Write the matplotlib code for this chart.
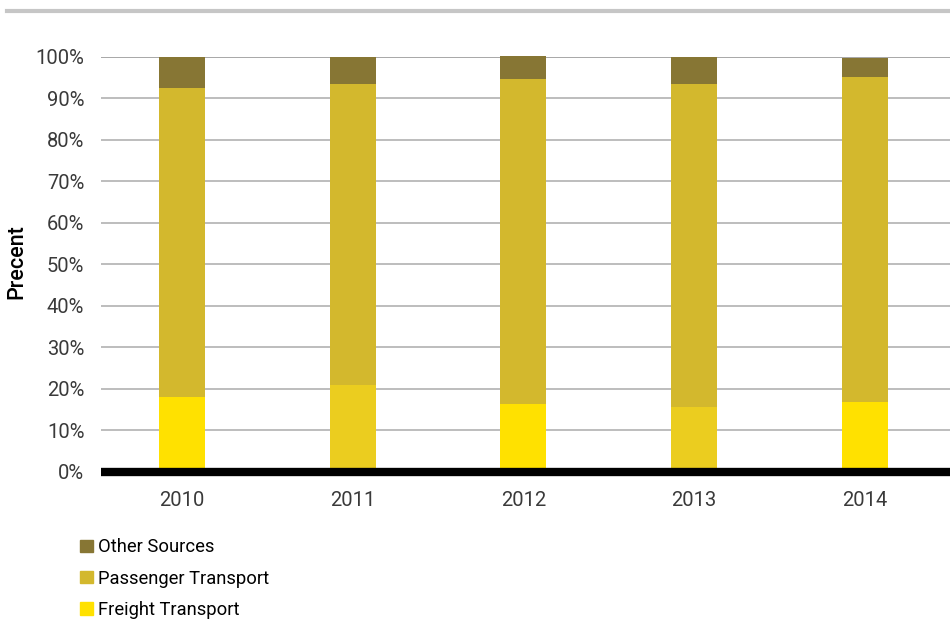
import matplotlib.pyplot as plt
from matplotlib.patches import Patch
from matplotlib.lines import Line2D

# share of transport emissions by source, percent of total
years = ["2010", "2011", "2012", "2013", "2014"]
freight = [18.0, 20.8, 16.3, 15.5, 16.7]
passenger = [74.5, 72.6, 78.3, 78.1, 78.4]
other = [7.5, 6.6, 5.7, 6.4, 4.6]

yticks = [0, 10, 20, 30, 40, 50, 60, 70, 80, 90, 100]
ytick_labels = [f"{t}%" for t in yticks]

c_other = "#877634"
c_pass = "#D3B82D"
c_freight = ["#FFE100", "#EBCD1F", "#FFE100", "#EBCD1F", "#FFE100"]

plt.rcParams["font.family"] = ["Roboto", "DejaVu Sans"]

fig = plt.figure(figsize=(9.5, 6.22), dpi=100)
ax = fig.add_axes([101 / 950, 1 - 471.5 / 622, 1 - 101 / 950, 414.5 / 622])

x = list(range(len(years)))
w = 0.27
ax.bar(x, freight, w, color=c_freight, zorder=2, clip_on=False)
ax.bar(x, passenger, w, bottom=freight, color=c_pass, zorder=2, clip_on=False)
base = [f + p for f, p in zip(freight, passenger)]
ax.bar(x, other, w, bottom=base, color=c_other, zorder=2, clip_on=False)

for t in yticks[1:]:
    ax.axhline(t, color="#8F8F8F" if t == 100 else "#ABABAB", lw=1.1, zorder=1)
ax.axhline(0, color="black", lw=6, zorder=3, clip_on=False, solid_capstyle="butt")

ax.set_xlim(-0.475, 4.5)
ax.set_ylim(0, 100)
ax.set_xticks(x)
ax.set_xticklabels(years)
ax.set_yticks(yticks)
ax.set_yticklabels(ytick_labels)
ax.tick_params(axis="both", length=0, labelsize=14.5, labelcolor="#3A3A3A")
ax.tick_params(axis="x", pad=14)
ax.tick_params(axis="y", pad=12)
for s in ax.spines.values():
    s.set_visible(False)

fig.text(17 / 950, 1 - 262 / 622, "Precent", rotation=90, fontsize=15.5,
         fontweight="medium", ha="center", va="center", color="black")

# thin rule across the top of the figure
fig.add_artist(Line2D([7 / 950, 1], [1 - 11 / 622] * 2, color="#C6C6C6", lw=3,
                      transform=fig.transFigure))

handles = [Patch(color=c_other, label="Other Sources"),
           Patch(color=c_pass, label="Passenger Transport"),
           Patch(color=c_freight[0], label="Freight Transport")]
fig.legend(handles=handles, loc="upper left", bbox_to_anchor=(73 / 950, 1 - 531 / 622),
           frameon=False, fontsize=13.2, handlelength=0.68, handleheight=0.68,
           handletextpad=0.3, labelspacing=0.72, borderaxespad=0)

fig.savefig("out.png", dpi=100)
